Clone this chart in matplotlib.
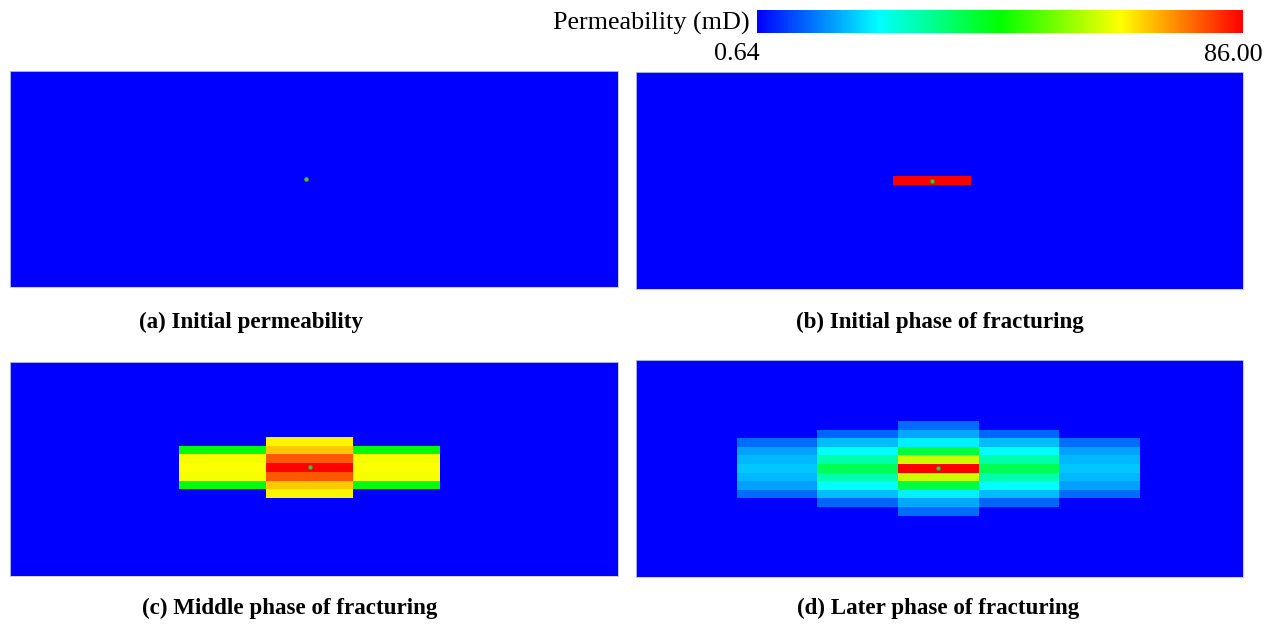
import numpy as np
import matplotlib
matplotlib.use('Agg')
import matplotlib.pyplot as plt
from matplotlib.colors import LinearSegmentedColormap, Normalize
from matplotlib.cm import ScalarMappable

plt.rcParams['font.family'] = ['Liberation Serif', 'DejaVu Serif']

K_MIN, K_MAX = 0.64, 86.00
NX, NY = 9, 25          # grid cells (columns, rows)
CX, CY = 4, 12          # injection cell

# permeability per column band, top to bottom, centred on the injection row (mD)
# key = column offset from the injection column
phase_a = {}
phase_b = {0: [86.0]}
phase_c = {
    0: [65.5, 69.3, 78.5, 86.0, 78.5, 69.3, 65.5],
    1: [42.5, 63.8, 64.5, 63.8, 42.5],
}
phase_d = {
    0: [9.9, 14.9, 20.7, 38.2, 60.0, 86.0, 60.0, 38.2, 20.7, 14.9, 9.9],
    1: [9.2, 16.5, 22.0, 29.1, 36.5, 29.1, 22.0, 16.5, 9.2],
    2: [9.9, 14.0, 16.0, 17.4, 16.0, 14.0, 9.9],
}
titles = ['(a) Initial permeability', '(b) Initial phase of fracturing',
          '(c) Middle phase of fracturing', '(d) Later phase of fracturing']

cmap = LinearSegmentedColormap.from_list(
    'perm', [(0.0, '#0000ff'), (0.25, '#00ffff'), (0.5, '#00ff00'),
             (0.75, '#ffff00'), (1.0, '#ff0000')])
norm = Normalize(K_MIN, K_MAX)


def build_grid(bands):
    grid = np.full((NY, NX), K_MIN)
    for dx, prof in bands.items():
        half = len(prof) // 2
        for col in {CX - dx, CX + dx}:
            grid[CY - half:CY + half + 1, col] = prof
    return grid


W, H = 1279, 631
fig = plt.figure(figsize=(W / 100, H / 100), dpi=100)


def px_axes(x0, y0, x1, y1):
    return fig.add_axes([x0 / W, 1 - y1 / H, (x1 - x0) / W, (y1 - y0) / H])


# (pixel box, x view, y view (top, bottom), title centre)
panels = [
    ((10, 71, 618, 287), (0.71, 8.49), (-1.0, 26.0), (251, 322), phase_a),
    ((636, 72, 1243, 289), (0.71, 8.49), (-1.0, 26.0), (940, 322), phase_b),
    ((10, 362, 618, 576), (1.057, 8.046), (0.39, 24.96), (290, 608), phase_c),
    ((636, 360, 1243, 577), (0.753, 8.275), (-0.09, 25.14), (938, 608), phase_d),
]

for (box, xv, yv, tpos, bands), title in zip(panels, titles):
    ax = px_axes(*box)
    ax.set_facecolor(cmap(0.0))
    grid = build_grid(bands)
    ax.pcolormesh(np.arange(NX + 1), np.arange(NY + 1), grid,
                  cmap=cmap, norm=norm, shading='flat', antialiased=False)
    ax.scatter([CX + 0.5], [CY + 0.5], s=9, c='#3cc83c',
               edgecolors='#5a7a3a', linewidths=0.4, zorder=3)
    ax.set_xlim(*xv)
    ax.set_ylim(yv[1], yv[0])
    ax.set_xticks([])
    ax.set_yticks([])
    for sp in ax.spines.values():
        sp.set_color('#c8c8e6')
        sp.set_linewidth(0.6)
    fig.text(tpos[0] / W, 1 - tpos[1] / H, title, ha='center', va='center',
             fontsize=16.6, fontweight='bold')

# colour bar
cax = px_axes(757, 10, 1243, 33)
cb = fig.colorbar(ScalarMappable(norm=norm, cmap=cmap), cax=cax,
                  orientation='horizontal')
cb.set_ticks([])
cb.outline.set_visible(False)
fig.text(750 / W, 1 - 23 / H, 'Permeability (mD)', ha='right', va='center',
         fontsize=18.8)
fig.text(737 / W, 1 - 54 / H, '0.64', ha='center', va='center', fontsize=18.8)
fig.text(1263 / W, 1 - 55 / H, '86.00', ha='right', va='center', fontsize=18.8)

fig.savefig('out.png', dpi=100)
